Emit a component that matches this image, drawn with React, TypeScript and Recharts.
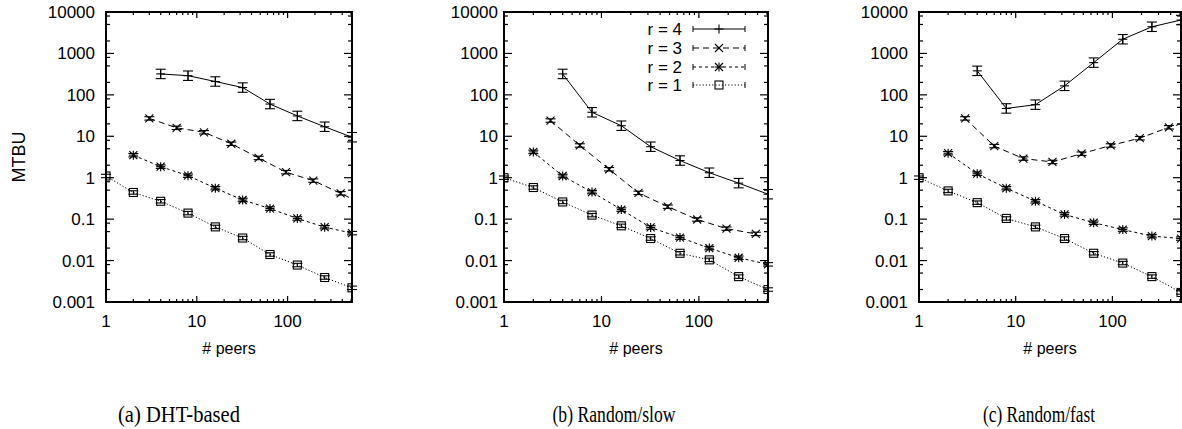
import React from "react";
import { LineChart, Line, XAxis, YAxis, ErrorBar, ReferenceArea } from "recharts";

// x positions of each replication series (number of peers)
const PEERS_R4 = [4, 8, 16, 32, 64, 128, 256, 512];
const PEERS_R3 = [3, 6, 12, 24, 48, 96, 192, 384, 768];
const PEERS_R2 = [2, 4, 8, 16, 32, 64, 128, 256, 512];
const PEERS_R1 = [1, 2, 4, 8, 16, 32, 64, 128, 256, 512];

// (a) DHT-based
const DHT_R4 = [320, 290, 210, 150, 60, 31, 17, 9.5];
const DHT_R3 = [27, 16, 12.5, 6.6, 3.0, 1.36, 0.85, 0.42, 0.2];
const DHT_R2 = [3.5, 1.85, 1.12, 0.56, 0.29, 0.18, 0.104, 0.064, 0.046];
const DHT_R1 = [1.1, 0.44, 0.27, 0.14, 0.065, 0.035, 0.014, 0.0078, 0.0039, 0.0022];

// (b) Random/slow
const SLOW_R4 = [320, 38, 18, 5.6, 2.6, 1.32, 0.74, 0.4];
const SLOW_R3 = [24, 6.0, 1.6, 0.43, 0.2, 0.098, 0.059, 0.044];
const SLOW_R2 = [4.2, 1.1, 0.45, 0.17, 0.063, 0.036, 0.02, 0.0117, 0.0081];
const SLOW_R1 = [1.0, 0.58, 0.26, 0.125, 0.069, 0.034, 0.015, 0.0104, 0.0041, 0.002];

// (c) Random/fast
const FAST_R4 = [380, 47, 58, 165, 600, 2200, 4400, 6400];
const FAST_R3 = [27, 5.8, 2.9, 2.4, 3.8, 6.0, 9.0, 16.5, 26];
const FAST_R2 = [3.9, 1.25, 0.56, 0.27, 0.13, 0.082, 0.056, 0.039, 0.034];
const FAST_R1 = [1.0, 0.48, 0.25, 0.104, 0.065, 0.034, 0.015, 0.0087, 0.0041, 0.0017];

const X_MAX = 512;
const X_TICKS = [1, 2, 3, 4, 5, 6, 7, 8, 9, 10, 20, 30, 40, 50, 60, 70, 80, 90, 100, 200, 300, 400, 500];
const Y_TICKS = [
  0.001, 0.002, 0.005, 0.008, 0.01, 0.02, 0.05, 0.08, 0.1, 0.2, 0.5, 0.8, 1, 2, 5, 8,
  10, 20, 50, 80, 100, 200, 500, 800, 1000, 2000, 5000, 8000, 10000,
];

const SERIES = [
  { key: "r4", name: "r = 4", peers: PEERS_R4, dash: undefined, marker: "plus", err: 0.3 },
  { key: "r3", name: "r = 3", peers: PEERS_R3, dash: "6 4", marker: "cross", err: 0.1 },
  { key: "r2", name: "r = 2", peers: PEERS_R2, dash: "3 3", marker: "star", err: 0.1 },
  { key: "r1", name: "r = 1", peers: PEERS_R1, dash: "1.2 2", marker: "square", err: 0.1 },
];

const PANELS = [
  { id: "a", caption: "(a) DHT-based", values: [DHT_R4, DHT_R3, DHT_R2, DHT_R1], plotLeft: 106, plotRight: 352, gap: 11, captionX: 179, captionW: 122 },
  { id: "b", caption: "(b) Random/slow", values: [SLOW_R4, SLOW_R3, SLOW_R2, SLOW_R1], plotLeft: 504, plotRight: 768, gap: 6, captionX: 614, captionW: 123 },
  { id: "c", caption: "(c) Random/fast", values: [FAST_R4, FAST_R3, FAST_R2, FAST_R1], plotLeft: 919, plotRight: 1181, gap: 11, captionX: 1039, captionW: 112 },
];

const PLOT_TOP = 12;
const PLOT_BOTTOM = 302;
const CHART_H = 370;
const Y_AXIS_W = 100;
const SANS = "'Liberation Sans', Arial, sans-serif";
const SERIF = "'Liberation Serif', 'Times New Roman', serif";

const isDecade = (v: number) => Math.abs(Math.log10(v) - Math.round(Math.log10(v))) < 1e-9;

function marker(kind: string, cx: number, cy: number, key: string) {
  if (cx == null || cy == null || isNaN(cx) || isNaN(cy)) return <g key={key} />;
  const s = { stroke: "#000", strokeWidth: 1.1, fill: "none" };
  const d = 4;
  if (kind === "plus")
    return (
      <g key={key}>
        <line x1={cx - d - 0.5} x2={cx + d + 0.5} y1={cy} y2={cy} {...s} />
        <line x1={cx} x2={cx} y1={cy - d - 0.5} y2={cy + d + 0.5} {...s} />
      </g>
    );
  if (kind === "cross")
    return (
      <g key={key}>
        <line x1={cx - d} x2={cx + d} y1={cy - d} y2={cy + d} {...s} />
        <line x1={cx - d} x2={cx + d} y1={cy + d} y2={cy - d} {...s} />
      </g>
    );
  if (kind === "star")
    return (
      <g key={key}>
        <line x1={cx - d} x2={cx + d} y1={cy - d} y2={cy + d} {...s} />
        <line x1={cx - d} x2={cx + d} y1={cy + d} y2={cy - d} {...s} />
        <line x1={cx - d - 0.5} x2={cx + d + 0.5} y1={cy} y2={cy} {...s} />
        <line x1={cx} x2={cx} y1={cy - d - 0.5} y2={cy + d + 0.5} {...s} />
      </g>
    );
  return <rect key={key} x={cx - d} y={cy - d} width={2 * d} height={2 * d} {...s} />;
}

function Panel({ panel }: { panel: (typeof PANELS)[number] }) {
  const chartLeft = panel.plotLeft - Y_AXIS_W;
  const width = panel.plotRight - chartLeft + 20;

  const xTick = (props: any) => {
    const { x, y, payload, index } = props;
    const v = payload.value;
    const major = isDecade(v);
    const len = major ? 6 : 3;
    return (
      <g key={`xt-${index}`}>
        <line x1={x} x2={x} y1={y} y2={y - len} stroke="#000" strokeWidth={1.2} />
        <line x1={x} x2={x} y1={PLOT_TOP} y2={PLOT_TOP + len} stroke="#000" strokeWidth={1.2} />
        {major && (
          <text x={x} y={y + 25} textAnchor="middle" fontFamily={SANS} fontSize={17} fill="#000">
            {v}
          </text>
        )}
      </g>
    );
  };

  const yTick = (props: any) => {
    const { x, y, payload, index } = props;
    const v = payload.value;
    const major = isDecade(v);
    const len = major ? 8 : 4;
    const right = panel.plotRight - chartLeft;
    return (
      <g key={`yt-${index}`}>
        <line x1={x} x2={x + len} y1={y} y2={y} stroke="#000" strokeWidth={1.2} />
        <line x1={right} x2={right - len} y1={y} y2={y} stroke="#000" strokeWidth={1.2} />
        {major && (
          <text x={x - panel.gap} y={y + 6} textAnchor="end" fontFamily={SANS} fontSize={17} fill="#000">
            {String(v)}
          </text>
        )}
      </g>
    );
  };

  return (
    <div style={{ position: "absolute", left: chartLeft, top: 0 }}>
      <LineChart width={width} height={CHART_H} margin={{ top: PLOT_TOP, right: 20, bottom: 0, left: 0 }}>
        <XAxis
          dataKey="peers"
          type="number"
          scale="log"
          domain={[1, X_MAX]}
          allowDataOverflow
          ticks={X_TICKS}
          interval={0}
          tick={xTick}
          tickLine={false}
          axisLine={false}
          tickSize={0}
          tickMargin={0}
          height={CHART_H - PLOT_BOTTOM}
          label={{ value: "# peers", position: "insideBottom", offset: 16, fontFamily: SANS, fontSize: 16, fill: "#000" }}
        />
        <YAxis
          type="number"
          scale="log"
          domain={[0.001, 10000]}
          allowDataOverflow
          ticks={Y_TICKS}
          interval={0}
          tick={yTick}
          tickLine={false}
          axisLine={false}
          tickSize={0}
          tickMargin={0}
          width={Y_AXIS_W}
        />
        <ReferenceArea
          x1={1}
          x2={X_MAX}
          y1={0.001}
          y2={10000}
          fill="none"
          fillOpacity={0}
          stroke="#000"
          strokeWidth={2}
          ifOverflow="visible"
        />
        {SERIES.map((s, si) => {
          const data = panel.values[si].map((v, i) => ({
            peers: s.peers[i],
            v,
            // no error bar for the point that lies past the plotted range
            err: s.peers[i] > X_MAX ? null : [v - v / (1 + s.err), v * s.err],
          }));
          return (
            <Line
              key={s.key}
              data={data}
              dataKey="v"
              name={s.name}
              stroke="#000"
              strokeWidth={1}
              strokeDasharray={s.dash}
              isAnimationActive={false}
              dot={(p: any) =>
                p.payload && p.payload.peers > X_MAX
                  ? <g key={`${s.key}-${p.index}`} />
                  : marker(s.marker, p.cx, p.cy, `${s.key}-${p.index}`)
              }
              activeDot={false}
            >
              <ErrorBar dataKey="err" width={5} stroke="#000" strokeWidth={1.1} direction="y" />
            </Line>
          );
        })}
      </LineChart>
    </div>
  );
}

export default function App() {
  const legendRows = [29, 48, 67, 85];
  return (
    <div
      style={{
        position: "fixed",
        left: 0,
        top: 0,
        width: 1182,
        height: 429,
        overflow: "hidden",
        background: "#fff",
      }}
    >
      {PANELS.map((p) => (
        <Panel key={p.id} panel={p} />
      ))}
      <svg width={1182} height={429} style={{ position: "absolute", left: 0, top: 0, pointerEvents: "none" }}>
        <text
          x={19}
          y={157}
          transform="rotate(-90 19 157)"
          textAnchor="middle"
          dominantBaseline="central"
          fontFamily={SANS}
          fontSize={18}
          fill="#000"
        >
          MTBU
        </text>
        {SERIES.map((s, i) => {
          const y = legendRows[i];
          return (
            <g key={s.key}>
              <text x={682} y={y + 6} textAnchor="end" fontFamily={SANS} fontSize={17} fill="#000">
                {s.name}
              </text>
              <line x1={693} x2={745} y1={y} y2={y} stroke="#000" strokeWidth={1} strokeDasharray={s.dash} />
              <line x1={693} x2={693} y1={y - 3} y2={y + 3} stroke="#000" strokeWidth={1} />
              <line x1={745} x2={745} y1={y - 3} y2={y + 3} stroke="#000" strokeWidth={1} />
              {marker(s.marker, 719, y, `lg-${s.key}`)}
            </g>
          );
        })}
        {PANELS.map((p) => (
          <text
            key={p.id}
            x={p.captionX}
            y={422}
            textAnchor="middle"
            fontFamily={SERIF}
            fontSize={23}
            textLength={p.captionW}
            lengthAdjust="spacingAndGlyphs"
            fill="#000"
          >
            {p.caption}
          </text>
        ))}
      </svg>
    </div>
  );
}
